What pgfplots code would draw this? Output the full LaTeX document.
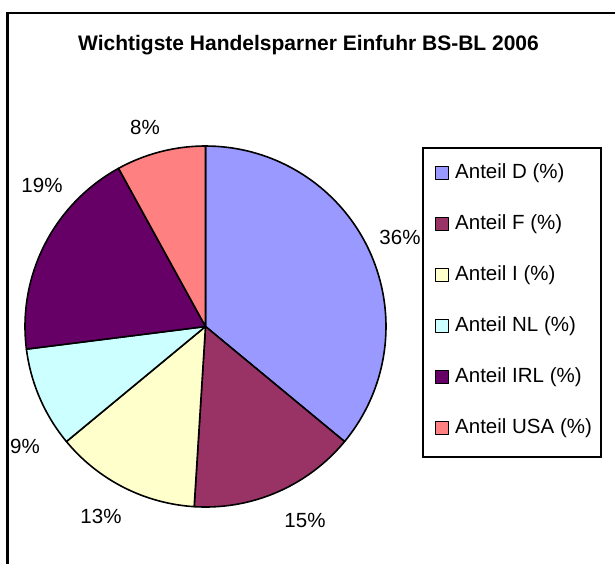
\documentclass[border=0pt]{standalone}
\usepackage{pgfplots}
\usepackage{pgfplotstable}
\pgfplotsset{compat=1.18}
\usepackage{fontspec}
\setmainfont{Liberation Sans}
\definecolor{cD}{HTML}{9999FF}
\definecolor{cF}{HTML}{993366}
\definecolor{cI}{HTML}{FFFFCC}
\definecolor{cNL}{HTML}{CCFFFF}
\definecolor{cIRL}{HTML}{660066}
\definecolor{cUSA}{HTML}{FF8080}
\pgfplotstableread{
name value
D 36
F 15
I 13
NL 9
IRL 19
USA 8
}\piedata
\newcommand\cx{205.5}
\newcommand\cy{326.5}
\newcommand\rr{180.5}
% cumulative angles (clockwise from 12 o'clock)
\pgfmathsetmacro\aA{90}
\pgfplotstablegetelem{0}{value}\of\piedata\pgfmathsetmacro\aB{\aA-3.6*\pgfplotsretval}
\pgfplotstablegetelem{1}{value}\of\piedata\pgfmathsetmacro\aC{\aB-3.6*\pgfplotsretval}
\pgfplotstablegetelem{2}{value}\of\piedata\pgfmathsetmacro\aD{\aC-3.6*\pgfplotsretval}
\pgfplotstablegetelem{3}{value}\of\piedata\pgfmathsetmacro\aE{\aD-3.6*\pgfplotsretval}
\pgfplotstablegetelem{4}{value}\of\piedata\pgfmathsetmacro\aF{\aE-3.6*\pgfplotsretval}
\pgfplotstablegetelem{5}{value}\of\piedata\pgfmathsetmacro\aG{\aF-3.6*\pgfplotsretval}
\begin{document}
\begin{tikzpicture}
\begin{axis}[
  x=1pt, y=1pt, y dir=reverse,
  xmin=0, xmax=615, ymin=0, ymax=563,
  hide axis, clip=false,
  scale only axis,
  every axis plot/.append style={draw=black, line width=1.6pt, line join=round},
  legend image code/.code={\draw[#1, line width=1.2pt] (0pt,-6.5pt) rectangle (13pt,6.5pt);},
  legend style={at={(axis cs:435,163.8)}, anchor=north west, draw=none, fill=none,
    inner sep=0pt, outer sep=0pt,
    font=\fontsize{20.5}{24}\selectfont, row sep=32pt,
    nodes={text height=15pt, text depth=4pt, inner sep=0pt}},
  legend cell align=left,
]
\path (axis cs:0,0) rectangle (axis cs:615,563);
\draw[overlay, line width=2.5pt] (axis cs:7.5,13) rectangle (axis cs:630,580);
\draw[line width=1.3pt] (axis cs:423,148) rectangle (axis cs:601,457);

\addplot[fill=cD, domain=\aB:\aA, samples=80, variable=\t] ({\cx+\rr*cos(\t)},{\cy-\rr*sin(\t)}) -- (axis cs:\cx,\cy) -- cycle;
\addlegendentry{\hspace*{6pt}Anteil D (\%)}
\addplot[fill=cF, domain=\aC:\aB, samples=60, variable=\t] ({\cx+\rr*cos(\t)},{\cy-\rr*sin(\t)}) -- (axis cs:\cx,\cy) -- cycle;
\addlegendentry{\hspace*{6pt}Anteil F (\%)}
\addplot[fill=cI, domain=\aD:\aC, samples=60, variable=\t] ({\cx+\rr*cos(\t)},{\cy-\rr*sin(\t)}) -- (axis cs:\cx,\cy) -- cycle;
\addlegendentry{\hspace*{6pt}Anteil I (\%)}
\addplot[fill=cNL, domain=\aE:\aD, samples=60, variable=\t] ({\cx+\rr*cos(\t)},{\cy-\rr*sin(\t)}) -- (axis cs:\cx,\cy) -- cycle;
\addlegendentry{\hspace*{6pt}Anteil NL (\%)}
\addplot[fill=cIRL, domain=\aF:\aE, samples=60, variable=\t] ({\cx+\rr*cos(\t)},{\cy-\rr*sin(\t)}) -- (axis cs:\cx,\cy) -- cycle;
\addlegendentry{\hspace*{6pt}Anteil IRL (\%)}
\addplot[fill=cUSA, domain=\aG:\aF, samples=60, variable=\t] ({\cx+\rr*cos(\t)},{\cy-\rr*sin(\t)}) -- (axis cs:\cx,\cy) -- cycle;
\addlegendentry{\hspace*{6pt}Anteil USA (\%)}

\node[font=\fontsize{21}{25}\selectfont\bfseries, anchor=base] at (axis cs:308.5,50.5) {Wichtigste Handelsparner Einfuhr BS-BL 2006};
\begin{scope}[every node/.style={font=\fontsize{20.5}{24}\selectfont}]
\node at (axis cs:400,237) {36\%};
\node at (axis cs:305,520) {15\%};
\node at (axis cs:101,516) {13\%};
\node at (axis cs:25,446) {9\%};
\node at (axis cs:42,185) {19\%};
\node at (axis cs:145,127) {8\%};
\end{scope}
\end{axis}
\end{tikzpicture}
\end{document}
